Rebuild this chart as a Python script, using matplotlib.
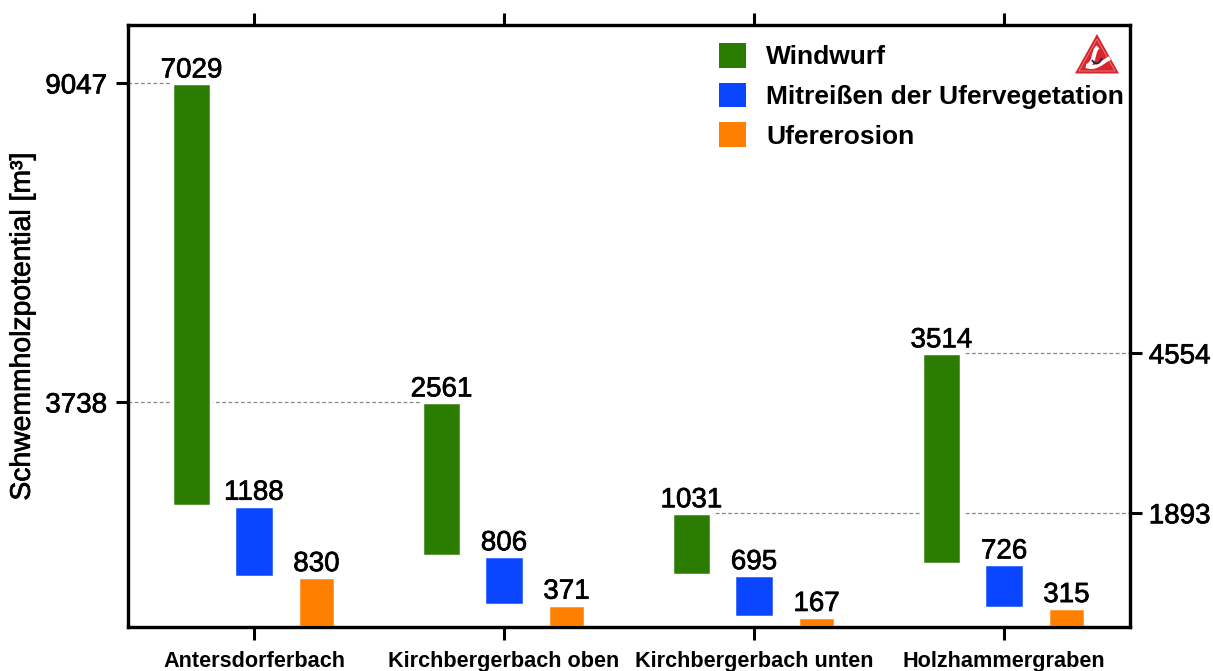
import numpy as np
import matplotlib
matplotlib.use("Agg")
import matplotlib.pyplot as plt
import matplotlib.patheffects as pe
from matplotlib.patches import Polygon, PathPatch
from matplotlib.path import Path

# data
baeche = ["Antersdorferbach", "Kirchbergerbach oben", "Kirchbergerbach unten", "Holzhammergraben"]
windwurf = [7029, 2561, 1031, 3514]
mitreissen = [1188, 806, 695, 726]
ufererosion = [830, 371, 167, 315]
links_ticks = [9047, 3738]
rechts_ticks = [4554, 1893]
namen = ["Windwurf", "Mitreißen der Ufervegetation", "Ufererosion"]

plt.rcParams['font.family'] = ['Liberation Sans', 'DejaVu Sans']

W, H = 1213, 671
fig = plt.figure(figsize=(W/100, H/100), dpi=100)
ax = fig.add_axes([128/W, 1-627/H, (1130-128)/W, (627-25)/H])

# Text wirkt im Original leicht verschmiert/halbfett
dick = [pe.withStroke(linewidth=0.5, foreground='black')]

x = np.arange(4)
versatz = 0.25
oben_blau = np.array(ufererosion) + np.array(mitreissen)
rand = dict(edgecolor='white', linewidth=2.5, zorder=3)

ax.bar(x-versatz, windwurf, 0.154, bottom=oben_blau, color='#2a7d00', label=namen[0], **rand)
ax.bar(x, mitreissen, 0.158, bottom=ufererosion, color='#0a46ff', label=namen[1], **rand)
ax.bar(x+versatz, ufererosion, 0.146, color='#ff8000', label=namen[2], **rand)

ax.set_xlim(-0.504, 3.504)
ax.set_ylim(0, 10020)

# Werte ueber den Balken
for i in x:
    oben_gruen = oben_blau[i] + windwurf[i]
    ax.text(i-versatz, oben_gruen+100, str(windwurf[i]), ha='center', va='baseline', fontsize=20, path_effects=dick)
    ax.text(i, oben_blau[i]+100, str(mitreissen[i]), ha='center', va='baseline', fontsize=20, path_effects=dick)
    ax.text(i+versatz, ufererosion[i]+100, str(ufererosion[i]), ha='center', va='baseline', fontsize=20, path_effects=dick)

# gestrichelte Hilfslinien
hilfe = dict(color='#888888', lw=0.9, ls=(0, (3, 2)), zorder=1)
ax.plot([-0.504, -versatz-0.07], [links_ticks[0]]*2, **hilfe)
ax.plot([-0.504, 1-versatz-0.07], [links_ticks[1]]*2, **hilfe)
ax.plot([3-versatz+0.07, 3.504], [rechts_ticks[0]]*2, **hilfe)
ax.plot([2-versatz+0.07, 3.504], [rechts_ticks[1]]*2, **hilfe)

ax.set_xticks(x)
ax.set_xticklabels(baeche, fontsize=15.6, fontweight='bold')
ax.set_yticks(links_ticks)
ax.set_yticklabels([str(v) for v in links_ticks], fontsize=20, path_effects=dick)
ax.tick_params(axis='x', top=True, bottom=True, length=9, width=2.2, pad=8)
ax.tick_params(axis='y', length=8.5, width=2.2, pad=6.5)
ax.set_ylabel("Schwemmholzpotential [m³]", fontsize=20.4, path_effects=dick)
ax.yaxis.set_label_coords(-0.092, 0.5)

ax2 = ax.twinx()
ax2.set_ylim(ax.get_ylim())
ax2.set_yticks(rechts_ticks)
ax2.set_yticklabels([str(v) for v in rechts_ticks], fontsize=20, path_effects=dick)
ax2.tick_params(axis='y', length=8.5, width=2.2, pad=5)
for a in (ax, ax2):
    for s in a.spines.values():
        s.set_linewidth(2.3)
        s.set_zorder(5)

# Legende
leg = ax.legend(loc='upper left', bbox_to_anchor=(0.59, 0.97), frameon=False,
                prop=dict(size=19, weight='bold'),
                handlelength=1.03, handleheight=1.07, handletextpad=0.75, labelspacing=0.5,
                borderaxespad=0, borderpad=0)
for h in leg.legend_handles:
    h.set_edgecolor('none')
    h.set_linewidth(0)

# Logo oben rechts
def fx(px):
    return px/W
def fy(py):
    return 1-py/H
def logo_pfad(punkte, **kw):
    codes = [Path.MOVETO] + [Path.CURVE4]*(len(punkte)-1)
    p = Path([(fx(a), fy(b)) for a, b in punkte], codes)
    fig.add_artist(PathPatch(p, transform=fig.transFigure, **kw))

fig.add_artist(Polygon([(fx(1075), fy(73.5)), (fx(1097), fy(34)), (fx(1119), fy(73.5))], closed=True,
                       transform=fig.transFigure, fc='#d8262c', ec='none'))
fig.add_artist(Polygon([(fx(1079), fy(71)), (fx(1097), fy(39)), (fx(1115), fy(71))], closed=True,
                       transform=fig.transFigure, fc='none', ec='#f4b0b0', lw=0.4))
logo_pfad([(1087, 66), (1096, 62), (1092, 52), (1098, 47)], fc='none', ec='white', lw=3)
logo_pfad([(1086, 66), (1096, 70), (1102, 62), (1110, 58)], fc='none', ec='white', lw=2.8)
logo_pfad([(1092, 60), (1095, 65), (1099, 65), (1102, 58)], fc='none', ec='#222244', lw=1.3)

fig.savefig("out.png", dpi=100)
